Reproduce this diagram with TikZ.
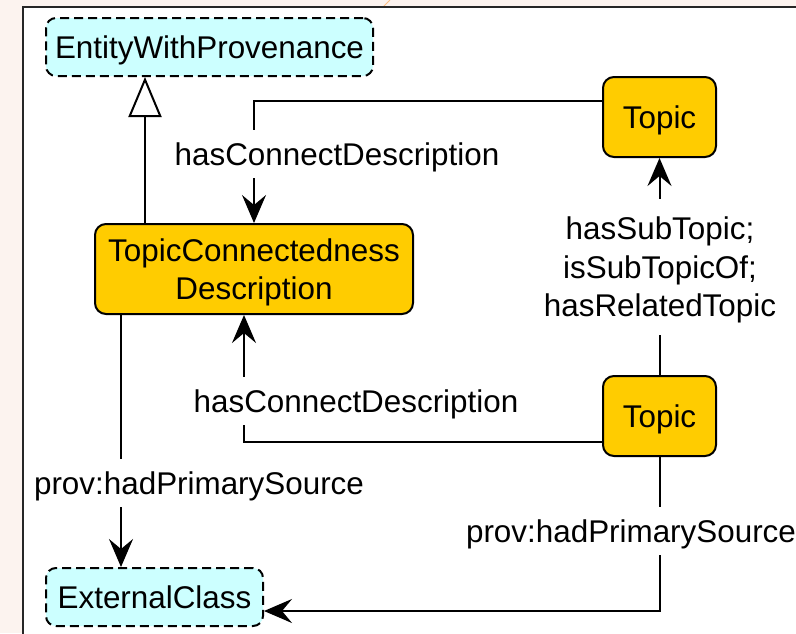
\documentclass[tikz,border=0pt]{standalone}
\usepackage{fontspec}
\setmainfont{Liberation Sans}
\usetikzlibrary{arrows.meta}
\definecolor{bgbeige}{HTML}{FCF3EF}
\definecolor{clsyellow}{HTML}{FFCC00}
\definecolor{extcyan}{HTML}{CCFFFF}
\begin{document}
\begin{tikzpicture}[x=1pt,y=-1pt, font=\fontsize{31.4}{38.5}\selectfont,
  box/.style={draw=black, line width=2pt, rounded corners=11pt, inner sep=0pt, text height=22.5pt, text depth=0pt},
  clsbox/.style={box, fill=clsyellow},
  extbox/.style={box, fill=extcyan, dash pattern=on 9pt off 5pt, rounded corners=10pt},
  conn/.style={line width=2pt, draw=black},
  arr/.style={conn, -{Stealth[length=28pt,width=24pt,inset=10pt]}},
  lbl/.style={fill=white, inner xsep=2pt, inner ysep=13pt, text height=22.5pt, text depth=0pt},
  two/.style={align=center, text height=61pt},
  three/.style={align=center, text height=99.5pt}]
\useasboundingbox (0,0) rectangle (796,633);
\clip (0,0) rectangle (796,633);
\fill[bgbeige] (0,0) rectangle (796,633);
\draw[orange!50, line width=0.8pt] (383,7) -- (390,0);
\draw[line width=2pt, draw=black!85, fill=white] (23,7) rectangle (830,660);

\node[extbox, minimum width=327pt, minimum height=58pt] (ewp) at (209.5,47) {EntityWithProvenance};
\node[clsbox, two, minimum width=318pt, minimum height=90pt] (tcd) at (254,269) {TopicConnectedness\\Description};
\node[clsbox, minimum width=113pt, minimum height=80pt] (t1) at (659.5,117) {Topic};
\node[clsbox, minimum width=113pt, minimum height=80pt] (t2) at (659.5,416) {Topic};
\node[extbox, minimum width=217pt, minimum height=58pt] (ec) at (154.5,597) {ExternalClass};

\coordinate (xa) at (145,0);
\coordinate (xb) at (121,0);
\draw[conn, -{Triangle[fill=white, length=40pt, width=33pt]}] (tcd.north -| xa) -- (ewp.south -| xa);
\draw[arr] ([yshift=16pt]t1.west) -| (tcd.north);
\draw[arr] ([yshift=-26pt]t2.west) -| ([xshift=-10pt]tcd.south);
\draw[arr] (t2.north) -- (t1.south);
\draw[arr] (tcd.south -| xb) -- (ec.north -| xb);
\draw[arr] (t2.south) |- ([yshift=-14pt]ec.east);

\node[lbl] (l1) at (337,154) {hasConnectDescription};
\node[lbl] (l2) at (356,401) {hasConnectDescription};
\node[lbl, three, inner ysep=18pt] (l3) at (660,267) {hasSubTopic;\\isSubTopicOf;\\hasRelatedTopic};
\node[lbl] (l4) at (199,483) {prov:hadPrimarySource};
\node[lbl] (l5) at (631,531) {prov:hadPrimarySource};
\end{tikzpicture}
\end{document}
